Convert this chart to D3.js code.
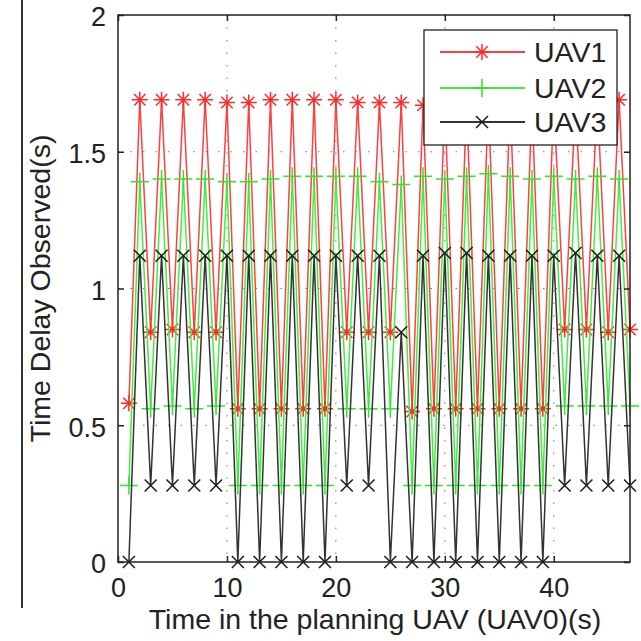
<!DOCTYPE html>
<html><head><meta charset="utf-8">
<script src="https://cdn.jsdelivr.net/npm/d3@7"></script>
<style>html,body{margin:0;padding:0;background:#fff;}svg{display:block;font-family:"Liberation Sans",Arial,Helvetica,sans-serif;}</style>
</head><body>
<script>
const timeSteps = [1,2,3,4,5,6,7,8,9,10,11,12,13,14,15,16,17,18,19,20,21,22,23,24,25,26,27,28,29,30,31,32,33,34,35,36,37,38,39,40,41,42,43,44,45,46,47];
const uav1 = [0.58,1.69,0.84,1.69,0.85,1.69,0.84,1.69,0.84,1.68,0.56,1.68,0.56,1.69,0.56,1.69,0.56,1.69,0.56,1.69,0.84,1.68,0.84,1.68,0.84,1.68,0.55,1.67,0.56,1.68,0.56,1.68,0.56,1.69,0.56,1.69,0.56,1.68,0.56,1.69,0.85,1.68,0.85,1.69,0.84,1.69,0.85];
const uav2 = [0.28,1.39,0.56,1.40,0.57,1.40,0.56,1.40,0.57,1.39,0.28,1.39,0.28,1.40,0.28,1.41,0.28,1.41,0.28,1.41,0.56,1.41,0.56,1.39,0.56,1.38,0.28,1.41,0.28,1.40,0.28,1.41,0.28,1.42,0.28,1.41,0.28,1.40,0.28,1.41,0.57,1.40,0.57,1.41,0.57,1.40,0.57];
const uav3 = [0,1.12,0.28,1.12,0.28,1.12,0.28,1.12,0.28,1.12,0,1.12,0,1.12,0,1.12,0,1.12,0,1.12,0.28,1.12,0.28,1.12,0,0.84,0,1.12,0,1.13,0,1.13,0,1.12,0,1.12,0,1.12,0,1.12,0.28,1.13,0.28,1.12,0.28,1.12,0.28];
const seriesNames = ["UAV1","UAV2","UAV3"];
const xTicks = [0,10,20,30,40];
const yTicks = [0,0.5,1,1.5,2];
const yTickLabels = ["0","0.5","1","1.5","2"];
const xTitle = "Time in the planning UAV (UAV0)(s)";
const yTitle = "Time Delay Observed(s)";

const W = 641, H = 641;
const L = 118, R = 630, T = 15, B = 562;
const svg = d3.select("body").append("svg").attr("width", W).attr("height", H);

const x = d3.scaleLinear().domain([0, 47]).range([L, R]);
const y = d3.scaleLinear().domain([0, 2]).range([B, T]);

svg.append("line").attr("x1", 22).attr("x2", 22).attr("y1", 0).attr("y2", 608)
  .attr("stroke", "#333").attr("stroke-width", 2);

const grid = svg.append("g");
xTicks.filter(d => d > 0).forEach(d => {
  grid.append("line").attr("x1", x(d)).attr("x2", x(d)).attr("y1", T).attr("y2", B)
    .attr("stroke", "#777").attr("stroke-width", 1).attr("stroke-dasharray", "1.5,11");
});
yTicks.filter(d => d > 0 && d < 2).forEach(d => {
  grid.append("line").attr("x1", L).attr("x2", R).attr("y1", y(d)).attr("y2", y(d))
    .attr("stroke", "#777").attr("stroke-width", 1).attr("stroke-dasharray", "1.5,11");
});

const colors = ["#ff2a2a", "#2ae82a", "#1a1a1a"];
const lineColors = ["#ff4040", "#40ee40", "#333333"];
const data = [uav1, uav2, uav3];

function marker(g, type, cx, cy, color) {
  const p = d3.path();
  if (type === 0) {
    const r = 8, d = 5.7;
    p.moveTo(cx - r, cy); p.lineTo(cx + r, cy);
    p.moveTo(cx, cy - r); p.lineTo(cx, cy + r);
    p.moveTo(cx - d, cy - d); p.lineTo(cx + d, cy + d);
    p.moveTo(cx - d, cy + d); p.lineTo(cx + d, cy - d);
  } else if (type === 1) {
    const r = 9;
    p.moveTo(cx - r, cy); p.lineTo(cx + r, cy);
    p.moveTo(cx, cy - r); p.lineTo(cx, cy + r);
  } else {
    const d = 6;
    p.moveTo(cx - d, cy - d); p.lineTo(cx + d, cy + d);
    p.moveTo(cx - d, cy + d); p.lineTo(cx + d, cy - d);
  }
  g.append("path").attr("d", p.toString()).attr("stroke", color).attr("stroke-width", 1.5).attr("fill", "none");
}

const plotG = svg.append("g");
const line = d3.line().x((d, i) => x(timeSteps[i])).y(d => y(d));
data.forEach((vals, si) => {
  const g = plotG.append("g");
  g.append("path").datum(vals).attr("d", line).attr("fill", "none")
    .attr("stroke", lineColors[si]).attr("stroke-width", 1.5).attr("stroke-linejoin", "miter");
  vals.forEach((v, i) => marker(g, si, x(timeSteps[i]), y(v), colors[si]));
});

svg.append("rect").attr("x", L).attr("y", T).attr("width", R - L).attr("height", B - T)
  .attr("fill", "none").attr("stroke", "#222").attr("stroke-width", 1.5);

const tl = 6;
const bottomAxis = d3.axisBottom(x).tickValues(xTicks).tickSize(-tl).tickPadding(20).tickFormat(d3.format("d"));
const gb = svg.append("g").attr("transform", `translate(0,${B})`).call(bottomAxis);
const topAxis = d3.axisTop(x).tickValues(xTicks).tickSize(-tl).tickFormat("");
const gt = svg.append("g").attr("transform", `translate(0,${T})`).call(topAxis);
const leftAxis = d3.axisLeft(y).tickValues(yTicks).tickSize(-tl).tickPadding(12).tickFormat((d, i) => yTickLabels[i]);
const gl = svg.append("g").attr("transform", `translate(${L},0)`).call(leftAxis);
const rightAxis = d3.axisRight(y).tickValues(yTicks).tickSize(-tl).tickFormat("");
const gr = svg.append("g").attr("transform", `translate(${R},0)`).call(rightAxis);
[gb, gt, gl, gr].forEach(g => {
  g.select(".domain").remove();
  g.selectAll(".tick line").attr("stroke", "#222").attr("stroke-width", 1.5);
  g.selectAll("text").attr("font-size", 27).attr("fill", "#222")
    .attr("font-family", '"Liberation Sans",Arial,sans-serif');
});
gb.selectAll("text").attr("dy", "0.55em");
gl.selectAll("text").attr("dy", "0.4em");

svg.append("text").attr("x", 375).attr("y", 629).attr("text-anchor", "middle")
  .attr("font-size", 28.5).attr("fill", "#222").text(xTitle);
svg.append("text").attr("transform", `translate(50,${(T + B) / 2}) rotate(-90)`)
  .attr("text-anchor", "middle").attr("font-size", 28.5).attr("fill", "#222").text(yTitle);

const lg = svg.append("g");
lg.append("rect").attr("x", 424).attr("y", 30).attr("width", 193).attr("height", 115)
  .attr("fill", "#fff").attr("stroke", "#222").attr("stroke-width", 1.3);
const ly = [52, 88, 122];
seriesNames.forEach((n, i) => {
  lg.append("line").attr("x1", 440).attr("x2", 525).attr("y1", ly[i]).attr("y2", ly[i])
    .attr("stroke", lineColors[i]).attr("stroke-width", 1.8);
  marker(lg, i, 482, ly[i], colors[i]);
  lg.append("text").attr("x", 534).attr("y", ly[i]).attr("dy", "0.36em")
    .attr("font-size", 28.5).attr("fill", "#222").text(n);
});
</script>
</body></html>
